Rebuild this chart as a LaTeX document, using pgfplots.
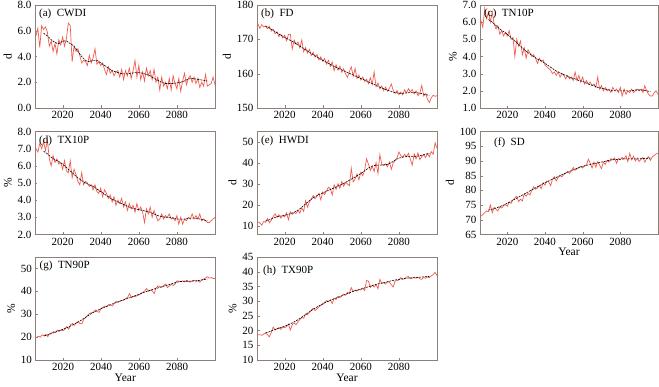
\documentclass[border=0pt]{standalone}
\usepackage{pgfplots}
\pgfplotsset{compat=1.18}
\usepackage{pgfplotstable}
\usepackage{fontspec}
\setmainfont{Liberation Serif}
\definecolor{redl}{RGB}{242,90,78}
\definecolor{framec}{RGB}{140,128,120}

\pgfplotstableread{
year a b c d e f g h
2006 5.6 174.5 6.1 7.0 12.0 71.2 19.8 18.6
2007 6.2 173.2 5.7 6.8 11.5 71.8 20.4 18.6
2008 4.7 174.3 6.8 7.3 10.4 72.4 20.0 18.4
2009 6.4 173.6 6.2 7.0 12.2 73.0 21.0 18.8
2010 6.1 173.9 6.6 7.4 11.8 72.8 20.6 19.2
2011 6.3 173.1 6.0 6.9 13.6 75.0 21.2 18.6
2012 5.9 173.8 6.6 7.5 11.6 72.4 20.2 17.9
2013 4.8 172.4 5.9 6.4 12.8 74.2 21.6 19.4
2014 5.2 172.9 5.6 6.0 14.5 73.6 21.8 21.2
2015 4.4 171.6 5.8 6.6 15.8 73.0 22.4 20.2
2016 5.0 172.2 5.3 6.2 14.2 74.4 22.0 20.6
2017 4.2 170.8 5.5 6.4 15.4 74.0 23.0 21.0
2018 5.3 171.5 5.2 6.1 13.8 74.8 22.6 20.4
2019 4.9 170.4 5.4 6.2 15.0 75.2 23.2 21.2
2020 5.5 171.2 5.2 5.8 14.4 74.6 22.8 21.0
2021 4.8 169.6 5.5 6.3 16.3 76.0 23.6 21.4
2022 5.4 171.4 5.0 5.7 13.0 75.6 24.6 22.2
2023 6.6 171.5 5.1 5.6 16.8 76.8 23.4 20.2
2024 6.4 167.2 4.0 6.3 15.6 77.4 25.4 22.0
2025 3.6 169.8 5.0 5.3 16.4 78.0 26.0 22.6
2026 4.8 168.6 4.6 5.8 16.0 76.2 25.2 22.0
2027 4.4 169.2 4.9 5.5 17.5 77.0 26.4 23.0
2028 4.6 167.5 4.1 5.1 16.2 76.4 26.8 23.8
2029 4.1 169.8 4.5 4.9 18.8 78.8 25.8 24.4
2030 3.5 166.4 3.9 5.6 17.0 78.0 26.0 24.2
2031 3.7 167.6 4.4 4.9 22.0 79.0 28.0 25.6
2032 3.6 166.0 4.2 5.1 19.0 78.4 28.6 25.4
2033 3.3 167.1 4.0 5.0 21.5 80.0 29.6 26.2
2034 4.1 165.3 4.1 4.8 22.8 81.2 30.4 27.0
2035 3.5 166.2 3.9 4.9 24.5 80.4 30.6 27.6
2036 3.9 164.8 3.6 4.6 23.0 80.8 31.0 26.8
2037 4.6 165.6 3.9 4.9 24.2 81.6 31.8 27.4
2038 3.4 164.0 3.7 4.5 25.6 80.6 31.2 28.0
2039 3.6 164.9 3.8 4.4 22.5 82.6 30.8 28.6
2040 3.3 163.6 3.5 4.7 26.2 81.8 32.6 28.8
2041 3.5 164.4 3.4 4.2 25.0 83.2 33.0 29.6
2042 3.0 162.8 3.3 4.6 26.8 82.8 33.6 30.2
2043 2.6 163.9 3.2 4.4 28.5 81.6 33.2 29.8
2044 3.2 162.1 3.0 4.1 27.8 83.8 34.2 30.4
2045 2.7 163.4 3.1 4.3 24.8 84.6 34.0 29.2
2046 2.9 160.9 2.9 3.9 29.6 83.2 33.6 31.0
2047 2.5 162.6 3.1 4.2 27.5 84.4 34.8 30.6
2048 2.8 161.0 2.8 3.7 30.2 85.0 35.6 31.6
2049 2.9 162.2 3.0 4.0 28.0 84.6 35.2 31.2
2050 2.4 160.4 2.9 3.8 31.2 85.4 35.8 31.8
2051 3.0 161.4 2.7 4.1 29.0 85.8 36.0 32.4
2052 2.2 159.9 2.9 3.6 30.8 86.4 36.2 32.0
2053 2.9 158.9 2.7 3.9 30.0 85.8 36.8 33.0
2054 2.5 160.6 2.8 3.4 29.2 86.6 37.4 32.6
2055 3.1 162.0 2.6 3.8 37.5 87.8 39.0 34.6
2056 2.3 159.3 3.1 3.5 31.0 86.8 37.2 33.2
2057 2.9 161.5 2.6 3.7 32.4 87.4 37.8 33.8
2058 3.7 158.6 2.9 3.3 34.8 87.8 37.6 33.4
2059 2.4 159.6 2.5 3.8 32.0 88.2 38.2 34.0
2060 3.3 158.2 2.8 3.4 35.6 87.6 38.4 33.8
2061 2.2 159.0 2.4 3.6 34.0 88.4 39.2 34.4
2062 2.8 157.8 2.6 3.3 36.5 88.6 39.6 33.6
2063 2.1 158.4 2.4 2.7 42.0 90.6 40.2 37.0
2064 3.1 157.1 2.5 3.5 39.5 89.2 41.2 36.8
2065 2.5 158.8 2.3 3.2 36.5 87.6 40.0 34.6
2066 2.9 156.9 2.4 3.6 38.4 89.6 40.6 35.4
2067 2.2 160.5 2.2 3.0 36.0 87.8 40.2 34.8
2068 3.0 156.2 2.8 3.4 40.2 89.8 39.0 35.6
2069 2.0 157.3 2.1 3.1 35.0 88.6 41.6 34.2
2070 2.4 155.6 2.3 2.8 44.0 87.4 42.4 37.4
2071 1.4 156.4 2.0 2.9 39.5 89.6 42.0 36.0
2072 2.4 155.0 2.2 3.2 38.8 88.8 41.8 36.2
2073 1.7 156.1 2.0 2.9 39.6 90.2 42.6 35.8
2074 2.0 154.9 2.1 3.1 38.2 89.6 43.2 36.6
2075 1.5 155.7 1.9 3.0 40.5 90.8 41.6 36.4
2076 2.3 157.0 2.2 3.2 37.0 90.4 42.4 35.6
2077 1.4 155.2 2.0 2.9 40.0 91.0 43.0 34.8
2078 2.5 154.2 2.1 3.0 41.2 89.2 42.6 36.8
2079 1.9 155.1 1.9 2.8 42.5 90.8 43.2 37.0
2080 1.5 153.9 2.2 3.1 45.2 90.4 44.6 37.2
2081 2.3 154.6 1.7 2.6 43.5 91.2 44.4 38.0
2082 1.3 153.8 2.1 3.0 42.8 90.6 44.2 37.4
2083 2.1 155.3 1.8 2.6 44.2 91.8 44.6 37.6
2084 2.7 154.4 2.0 2.9 43.0 89.8 44.2 38.2
2085 1.8 155.6 1.9 2.8 44.6 92.6 44.8 38.4
2086 2.3 154.7 2.1 3.0 41.8 90.4 44.4 37.6
2087 2.5 155.4 1.9 2.9 39.0 91.6 44.0 37.8
2088 2.0 154.1 2.0 3.2 44.4 90.0 44.6 38.0
2089 2.4 155.0 2.1 2.9 42.0 91.0 44.8 37.8
2090 1.9 153.6 2.0 3.1 44.8 89.8 44.4 38.2
2091 2.3 154.3 2.1 2.9 41.6 90.6 44.6 37.6
2092 1.6 156.6 1.9 3.2 43.0 91.2 44.0 37.4
2093 2.0 153.5 2.3 2.8 44.0 89.6 45.0 38.0
2094 1.7 154.2 2.0 2.9 42.6 90.8 45.4 37.8
2095 2.6 152.6 1.8 2.8 44.5 91.4 45.8 38.2
2096 1.7 151.6 1.7 2.7 43.0 90.2 46.4 38.0
2097 1.8 153.0 1.7 2.7 45.4 91.4 45.8 38.6
2098 1.9 153.7 1.9 2.8 44.2 91.8 46.0 39.0
2099 2.4 153.4 2.0 2.9 49.6 92.4 45.6 39.8
2100 1.8 153.6 1.8 3.0 47.0 92.6 45.6 38.6
}\redtab

\pgfplotstableread{
year a b c d e f g h
2010 5.8 173.8 6.15 6.85 12.4 73.3 20.5 19.2
2012 5.6 173.3 6.0 6.7 13.0 73.6 21.0 19.6
2014 5.3 172.6 5.8 6.5 13.8 74.0 21.6 20.1
2016 5.1 171.9 5.6 6.35 14.4 74.5 22.2 20.6
2018 5.0 171.2 5.45 6.25 14.8 75.0 22.8 21.0
2020 5.2 170.6 5.3 6.1 15.1 75.6 23.4 21.5
2022 5.2 170.0 5.1 5.9 15.6 76.3 24.1 22.0
2024 5.0 169.4 4.9 5.7 16.2 77.0 24.9 22.6
2026 4.8 168.7 4.7 5.5 17.0 77.7 25.7 23.3
2028 4.4 168.0 4.5 5.3 18.2 78.4 26.6 24.1
2030 4.0 167.3 4.3 5.15 19.8 79.1 27.6 25.0
2032 3.7 166.6 4.15 5.0 21.3 79.8 28.7 25.9
2034 3.6 165.9 4.0 4.9 22.8 80.5 29.8 26.8
2036 3.7 165.2 3.85 4.8 24.0 81.2 30.8 27.6
2038 3.7 164.5 3.75 4.65 25.0 81.9 31.6 28.4
2040 3.5 163.9 3.6 4.5 25.8 82.6 32.4 29.1
2042 3.3 163.3 3.45 4.35 26.6 83.2 33.1 29.7
2044 3.1 162.7 3.3 4.2 27.4 83.8 33.8 30.3
2046 2.9 162.1 3.15 4.05 28.2 84.4 34.5 30.8
2048 2.8 161.6 3.05 3.95 29.0 85.0 35.1 31.3
2050 2.7 161.1 2.95 3.85 29.8 85.6 35.7 31.8
2052 2.65 160.6 2.85 3.75 30.8 86.2 36.3 32.3
2054 2.65 160.1 2.75 3.65 31.8 86.7 36.9 32.8
2056 2.7 159.6 2.7 3.55 32.8 87.2 37.5 33.3
2058 2.75 159.1 2.6 3.5 33.9 87.7 38.1 33.7
2060 2.75 158.6 2.55 3.45 35.0 88.1 38.7 34.1
2062 2.7 158.1 2.45 3.4 36.3 88.5 39.3 34.5
2064 2.6 157.6 2.35 3.35 37.6 88.8 39.9 34.9
2066 2.5 157.1 2.3 3.3 38.6 89.1 40.5 35.3
2068 2.3 156.6 2.2 3.2 39.0 89.3 41.0 35.7
2070 2.15 156.1 2.15 3.1 39.0 89.6 41.5 36.0
2072 2.0 155.6 2.1 3.05 39.1 89.9 42.0 36.3
2074 1.9 155.2 2.05 3.0 39.4 90.2 42.5 36.6
2076 1.9 154.8 2.0 3.0 40.2 90.4 43.0 36.9
2078 1.9 154.5 2.0 2.95 41.4 90.5 43.5 37.2
2080 1.95 154.3 2.0 2.9 42.3 90.6 44.0 37.4
2082 2.0 154.3 2.0 2.9 42.8 90.7 44.3 37.6
2084 2.1 154.4 2.0 2.9 43.1 90.7 44.4 37.8
2086 2.25 154.5 2.0 2.95 43.2 90.7 44.4 37.9
2088 2.3 154.5 2.05 2.95 43.2 90.7 44.5 38.0
2090 2.25 154.4 2.05 2.95 43.3 90.7 44.6 38.1
2092 2.2 154.2 2.05 2.9 43.7 90.8 44.8 38.2
2094 2.15 153.9 2.0 2.85 44.2 90.9 45.1 38.3
2096 2.1 153.7 1.95 2.8 44.6 91.0 45.4 38.4
}\blktab

\pgfplotsset{
  panel/.style={
    scale only axis, width=180pt, height=103pt,
    anchor=north west,
    xmin=2005.5, xmax=2100,
    xtick={2020,2040,2060,2080},
    xtick pos=left, ytick pos=left,
    tick align=inside,
    axis line style={framec},
    major tick length=2.5pt,
    tick style={framec},
    /pgf/number format/assume math mode=true,
    xticklabel style={/pgf/number format/1000 sep={}},
    ticklabel style={font=\fontsize{11}{13}\selectfont, text=black},
    label style={font=\fontsize{11.5}{13}\selectfont},
    xlabel style={yshift=4pt},
    ylabel style={yshift=-1pt},
  },
  onedec/.style={yticklabel style={/pgf/number format/.cd, fixed, fixed zerofill, precision=1}},
  redline/.style={redl, line width=0.7pt},
  blkline/.style={black, line width=0.6pt, dash pattern=on 2pt off 1pt, smooth},
}
\newcommand{\plab}[1]{\node[anchor=north west, inner sep=0pt, font=\fontsize{11}{13}\selectfont] at ([xshift=4pt,yshift=-4pt]rel axis cs:0,1) {#1};}

\begin{document}
\begin{tikzpicture}
\useasboundingbox (0pt,0pt) rectangle (659pt,-386pt);
% (a)
\begin{axis}[panel, onedec, at={(35pt,-5pt)}, ymin=0, ymax=8, ytick={0,2,4,6,8}, ylabel={d}]
\addplot[redline] table[x=year,y=a]{\redtab};
\addplot[blkline] table[x=year,y=a]{\blktab};
\plab{(a)\ \ CWDI}
\end{axis}
% (b)
\begin{axis}[panel, at={(257pt,-5pt)}, ymin=150, ymax=180, ytick={150,160,170,180}, ylabel={d}]
\addplot[redline] table[x=year,y=b]{\redtab};
\addplot[blkline] table[x=year,y=b]{\blktab};
\plab{(b)\ \ FD}
\end{axis}
% (c)
\begin{axis}[panel, onedec, width=178pt, at={(480pt,-5pt)}, ymin=1, ymax=7, ytick={1,2,...,7}, ylabel={\%}]
\addplot[redline] table[x=year,y=c]{\redtab};
\addplot[blkline] table[x=year,y=c]{\blktab};
\plab{(c)\ \ TN10P}
\end{axis}
% (d)
\begin{axis}[panel, onedec, at={(35pt,-131.5pt)}, ymin=2, ymax=8, ytick={2,3,...,8}, ylabel={\%}]
\addplot[redline] table[x=year,y=d]{\redtab};
\addplot[blkline] table[x=year,y=d]{\blktab};
\plab{(d)\ \ TX10P}
\end{axis}
% (e)
\begin{axis}[panel, at={(257pt,-131.5pt)}, ymin=6, ymax=55, ytick={10,20,...,50}, ylabel={d}]
\addplot[redline] table[x=year,y=e]{\redtab};
\addplot[blkline] table[x=year,y=e]{\blktab};
\plab{(e)\ \ HWDI}
\end{axis}
% (f)
\begin{axis}[panel, width=178pt, at={(480pt,-131.5pt)}, ymin=65, ymax=100, ytick={65,70,...,100}, ylabel={d}, xlabel={Year}]
\addplot[redline] table[x=year,y=f]{\redtab};
\addplot[blkline] table[x=year,y=f]{\blktab};
\node[anchor=north west, inner sep=0pt, font=\fontsize{11}{13}\selectfont] at ([xshift=14pt,yshift=-6pt]rel axis cs:0,1) {(f)\ \ SD};
\end{axis}
% (g)
\begin{axis}[panel, at={(35.5pt,-257pt)}, width=179.5pt, ymin=10, ymax=55, ytick={10,20,...,50}, ylabel={\%}, xlabel={Year}]
\addplot[redline] table[x=year,y=g]{\redtab};
\addplot[blkline] table[x=year,y=g]{\blktab};
\plab{(g)\ \ TN90P}
\end{axis}
% (h)
\begin{axis}[panel, at={(257pt,-257pt)}, ymin=10, ymax=45, ytick={10,15,...,45}, ylabel={\%}, xlabel={Year}]
\addplot[redline] table[x=year,y=h]{\redtab};
\addplot[blkline] table[x=year,y=h]{\blktab};
\node[anchor=north west, inner sep=0pt, font=\fontsize{11}{13}\selectfont] at ([xshift=6pt,yshift=-9pt]rel axis cs:0,1) {(h)\ \ TX90P};
\end{axis}
\end{tikzpicture}
\end{document}
